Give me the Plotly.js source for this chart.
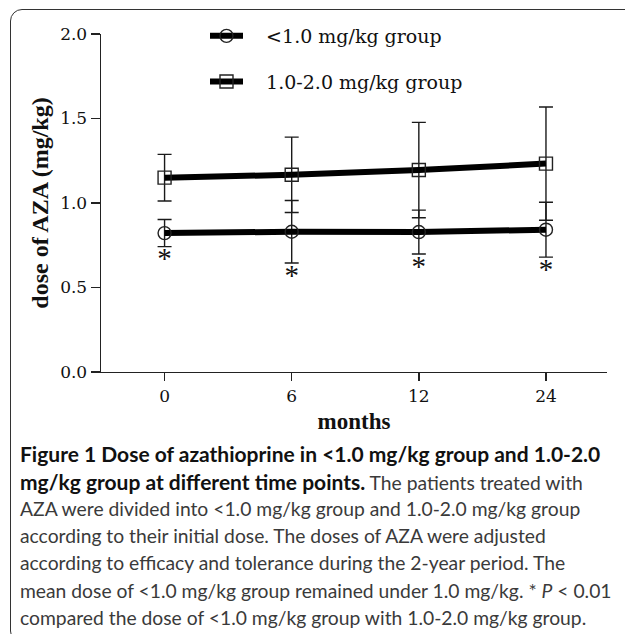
<!DOCTYPE html>
<html><head><meta charset="utf-8">
<script src="https://cdn.plot.ly/plotly-3.0.1.min.js"></script>
<style>
html,body{margin:0;padding:0;background:#fff;}
#wrap{position:relative;width:625px;height:634px;overflow:hidden;}
#chart{width:625px;height:634px;}
#frame{position:absolute;left:10px;top:9px;width:700px;height:632px;border:1.3px solid #333;border-radius:12px;pointer-events:none;}
</style>
</head><body>
<div id="wrap"><div id="chart"></div><div id="frame"></div></div>
<script>
// ---- data ----
const months = ['0', '6', '12', '24'];
const lowMean = [0.822, 0.830, 0.828, 0.842];
const lowSd = [0.080, 0.185, 0.130, 0.162];
const highMean = [1.150, 1.167, 1.195, 1.233];
const highSd = [0.138, 0.223, 0.282, 0.335];
const seriesNames = ['&lt;1.0 mg/kg group', '1.0-2.0 mg/kg group'];
const yTicks = [0, 0.5, 1.0, 1.5, 2.0];
const sigMark = '*';
const captionLines = [
  '<b>Figure 1 Dose of azathioprine in &lt;1.0 mg/kg group and 1.0-2.0</b>',
  '<b>mg/kg group at different time points.</b> The patients treated with',
  'AZA were divided into &lt;1.0 mg/kg group and 1.0-2.0 mg/kg group',
  'according to their initial dose. The doses of AZA were adjusted',
  'according to efficacy and tolerance during the 2-year period. The',
  'mean dose of &lt;1.0 mg/kg group remained under 1.0 mg/kg. * <i>P</i> &lt; 0.01',
  'compared the dose of &lt;1.0 mg/kg group with 1.0-2.0 mg/kg group.'
];

// ---- layout geometry ----
const W = 625, H = 634;
const M = {l: 101, r: 18, t: 34, b: 262};
const pw = W - M.l - M.r, ph = H - M.t - M.b;
const px2paperX = px => (px - M.l) / pw;
const px2paperY = py => (H - M.b - py) / ph;

const NB = '\u00a0\u00a0\u00a0';
const errStyle = arr => ({type: 'data', array: arr, visible: true, color: '#1a1a1a', thickness: 1.4, width: 7});

const traces = [
  {
    x: months, y: lowMean, name: NB + seriesNames[0], legendgroup: 'a',
    type: 'scatter', mode: 'lines+markers', cliponaxis: false,
    line: {color: '#000', width: 6},
    marker: {symbol: 'circle', size: 13, color: 'rgba(255,255,255,0)', line: {color: '#222', width: 1.4}},
    error_y: errStyle(lowSd)
  },
  {
    x: months, y: highMean, name: NB + seriesNames[1], legendgroup: 'b',
    type: 'scatter', mode: 'lines+markers', cliponaxis: false,
    line: {color: '#000', width: 6},
    marker: {symbol: 'square', size: 13, color: 'rgba(255,255,255,0)', line: {color: '#222', width: 1.4}},
    error_y: errStyle(highSd)
  },
  {
    x: months, y: lowMean.map((m, i) => m - lowSd[i]), type: 'scatter', mode: 'text',
    text: months.map(() => sigMark), textposition: 'bottom center', showlegend: false,
    textfont: {family: 'Liberation Serif', size: 29, color: '#111'}, cliponaxis: false, hoverinfo: 'skip'
  }
];

const annotations = captionLines.map((t, i) => ({
  text: t.replace(/<b>(.*?)<\/b>/, '<span style="font-size:21px;color:#111"><b>$1</b></span>'),
  xref: 'paper', yref: 'paper', x: px2paperX(18), y: px2paperY(454 + 27.2 * i),
  xanchor: 'left', yanchor: 'middle', showarrow: false, align: 'left',
  font: {family: 'Lato', size: 19.3, color: '#3a3a3a'}
}));

const axisCommon = {
  showline: true, linecolor: '#222', linewidth: 1.4, ticks: 'outside', tickcolor: '#222', tickwidth: 1.4,
  showgrid: false, zeroline: false, mirror: false,
  tickfont: {family: 'DejaVu Serif', size: 17, color: '#111'}
};

const layout = {
  width: W, height: H, margin: M,
  paper_bgcolor: 'rgba(0,0,0,0)', plot_bgcolor: 'rgba(0,0,0,0)',
  showlegend: true,
  legend: {
    x: px2paperX(205), y: px2paperY(17), xanchor: 'left', yanchor: 'top',
    traceorder: 'grouped', tracegroupgap: 18, itemwidth: 33,
    font: {family: 'DejaVu Serif', size: 19, color: '#111'}, bgcolor: 'rgba(0,0,0,0)'
  },
  xaxis: Object.assign({}, axisCommon, {
    type: 'category', range: [-0.5, 3.48], ticklen: 8,
    title: {text: '<b>months</b>', font: {family: 'Liberation Serif', size: 23, color: '#111'}, standoff: 8}
  }),
  yaxis: Object.assign({}, axisCommon, {
    range: [0, 2.0], tickvals: yTicks, ticktext: yTicks.map(v => v.toFixed(1)), ticklen: 9,
    title: {text: '<b>dose of AZA (mg/kg)</b>', font: {family: 'Liberation Serif', size: 24, color: '#111'}, standoff: 4}
  }),
  annotations: annotations
};

Plotly.newPlot('chart', traces, layout, {displayModeBar: false, staticPlot: true});
</script>
</body></html>
